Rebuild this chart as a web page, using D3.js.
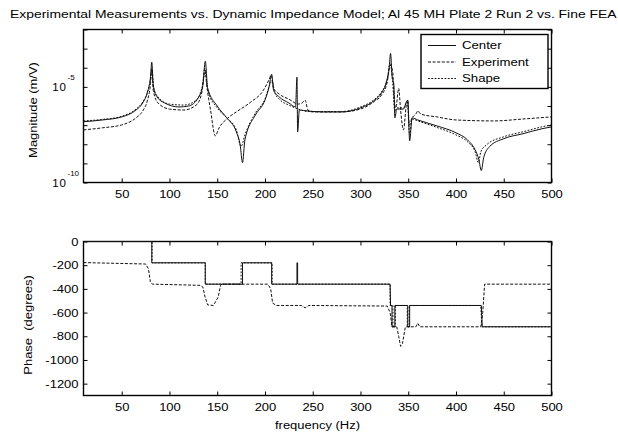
<!DOCTYPE html>
<html>
<head>
<meta charset="utf-8">
<script src="https://cdn.jsdelivr.net/npm/d3@7"></script>
<style>
    body { margin: 0; background: #fff; }
    text { font-family: "Liberation Sans", Arial, Helvetica, sans-serif; fill: #000; }
</style>
</head>
<body>
<svg id="chart" width="618" height="435"></svg>
<script>

//- Data
//  Magnitudes are kept as log10 of m/V, phases in degrees, frequencies in Hz

const centerMagFreq = [10, 30, 50, 65, 72, 77, 80, 81.5, 83, 87, 95, 110, 120, 130, 135, 137.5, 140, 150, 160, 170,
    174, 176.5, 179, 190, 200, 204, 207, 209, 215, 225, 232, 233.5, 234.2, 236, 245, 260, 280, 300, 315, 322,
    327, 330, 331.5, 333, 335, 336, 338, 345, 348, 349.5, 351.5, 354, 360, 380, 400, 412, 420, 424, 426.5, 429,
    435, 450, 470, 490, 500];
const centerMagLog = [-6.82, -6.73, -6.57, -6.21, -5.84, -5.27, -4.55, -3.71, -4.91, -5.53, -5.84, -6.05, -6.00, -5.58, -4.91, -3.66, -5.06, -6.00, -6.62, -7.35,
    -8.03, -8.96, -7.77, -6.47, -5.69, -5.06, -4.34, -5.17, -5.53, -5.84, -6.05, -4.49, -7.35, -6.21, -6.26, -6.31, -6.31, -6.10, -5.69, -5.32,
    -4.75, -4.03, -3.25, -4.39, -4.91, -6.62, -6.16, -6.16, -5.79, -5.69, -7.82, -6.62, -6.73, -7.04, -7.40, -7.77, -8.29, -8.81, -9.38, -8.70,
    -8.13, -7.71, -7.45, -7.19, -7.09];

const expMagFreq = [10, 30, 50, 65, 72, 77, 80, 81.5, 83, 88, 100, 115, 128, 134, 137, 139, 143, 148, 152, 160,
    170, 185, 198, 204, 206.5, 209, 215, 225, 235, 239, 242, 245, 250, 280, 300, 315, 322, 328, 331, 333.5,
    335.5, 337, 340, 342, 345, 348, 349.5, 351, 354, 358, 360, 363, 380, 400, 440, 470, 500];
const expMagLog = [-7.25, -7.14, -6.99, -6.62, -6.26, -5.69, -4.91, -4.03, -5.17, -5.84, -6.16, -6.21, -5.95, -5.27, -4.03, -4.91, -6.21, -7.56, -7.14, -6.68,
    -6.31, -5.80, -5.20, -4.65, -4.39, -5.06, -5.38, -5.64, -5.90, -5.84, -5.69, -6.21, -6.31, -6.31, -6.16, -5.74, -5.43, -4.75, -3.87, -4.13,
    -5.69, -6.10, -5.08, -6.21, -7.25, -5.95, -5.69, -6.99, -6.62, -6.42, -6.26, -6.42, -6.57, -6.73, -6.78, -6.68, -6.57];

const shapeMagFreq = [10, 30, 50, 65, 72, 77, 80, 81.8, 83.5, 88, 100, 115, 128, 134, 137.5, 140, 150, 160, 170, 175,
    179, 190, 200, 205, 207.5, 210, 216, 225, 235, 245, 280, 300, 315, 322, 328, 331, 333.5, 336, 338, 345,
    349, 351.5, 354, 360, 380, 400, 412, 420, 423.5, 426, 432, 450, 470, 490, 500];
const shapeMagLog = [-6.78, -6.70, -6.54, -6.16, -5.79, -5.27, -4.65, -4.13, -5.06, -5.53, -5.90, -5.95, -5.69, -5.06, -4.22, -5.17, -6.10, -6.62, -7.25, -8.11,
    -7.51, -6.36, -5.64, -4.91, -4.65, -5.27, -5.69, -5.95, -6.16, -6.29, -6.29, -6.05, -5.64, -5.27, -4.65, -3.73, -4.65, -6.31, -6.10, -6.10,
    -5.79, -7.51, -6.68, -6.78, -7.12, -7.51, -7.87, -8.39, -8.96, -8.39, -8.03, -7.61, -7.35, -7.09, -6.99];

const centerPhaseFreq = [10, 81.5, 81.5, 137.5, 137.5, 176.5, 176.5, 207, 207, 233.5, 233.5, 234.2, 234.2,
    331, 331.5, 333, 333, 336, 336, 349.5, 349.5, 351.5, 351.5, 426.5, 427.5, 500];
const centerPhase = [0, 0, -180, -180, -360, -360, -180, -180, -360, -360, -180, -180, -360,
    -360, -540, -540, -720, -720, -540, -540, -720, -720, -540, -540, -720, -720];

const expPhaseFreq = [10, 75, 78, 80, 82, 132, 135, 137, 140, 146, 151, 153.5, 155, 203, 206, 208, 212,
    238, 242, 246, 328, 331, 333, 338, 340, 342, 344, 347, 358, 360, 362, 426, 428, 430, 500];
const expPhase = [-178, -190, -230, -340, -360, -370, -385, -460, -535, -540, -470, -370, -360, -360, -400, -520, -540,
    -540, -560, -540, -545, -600, -720, -720, -800, -885, -860, -720, -720, -690, -720, -720, -600, -360, -360];

const shapePhaseFreq = [10, 81.8, 81.8, 137.5, 137.5, 175, 175, 207.5, 207.5, 331, 331, 334, 334,
    336.5, 336.5, 349, 349, 351, 351, 426, 427, 500];
const shapePhase = [0, 0, -180, -180, -360, -360, -180, -180, -360, -360, -540, -540, -720,
    -720, -540, -540, -720, -720, -540, -540, -720, -720];

const freqTicks = [50, 100, 150, 200, 250, 300, 350, 400, 450, 500];
const magTicks = [1e-10, 1e-9, 1e-8, 1e-7, 1e-6, 1e-5, 1e-4, 1e-3, 1e-2];
const phaseTicks = [0, -200, -400, -600, -800, -1000, -1200];

const seriesNames = ["Center", "Experiment", "Shape"];


//- Layout
const PLOTLEFT = 83.5, PLOTRIGHT = 551.5;
const MAGTOP = 29.5, MAGBOTTOM = 182.5;
const PHTOP = 241.5, PHBOTTOM = 395.5;
const STRETCH = 1.18;   // the lettering in the picture is wider than Liberation Sans

const dashes = { "Center": null, "Experiment": "3,1.6", "Shape": "1.8,1.5" };

const svg = d3.select("#chart");

const xScale = d3.scaleLinear().domain([10, 500]).range([PLOTLEFT, PLOTRIGHT]);
const yMag = d3.scaleLog().domain([1e-10, 1e-2]).range([MAGBOTTOM, MAGTOP]);
const yPhase = d3.scaleLinear().domain([-1300, 0]).range([PHBOTTOM, PHTOP]);


function widen(sel){
    // stretch each text horizontally around its own anchor point
    sel.each(function(){
        let t = d3.select(this);
        let x = +t.attr("x") || 0, y = +t.attr("y") || 0;
        t.attr("transform", `translate(${x},${y}) scale(${STRETCH},1) translate(${-x},${-y})`);
    });
}


function drawFrame(yScale, top, bottom, yTicks, yFormat){
    let g = svg.append("g");

    // bottom with labels
    let xb = g.append("g")
        .attr("transform", `translate(0,${bottom})`)
        .call(d3.axisBottom(xScale).tickValues(freqTicks).tickSizeInner(-4).tickSizeOuter(0).tickPadding(8));
    // top, ticks only
    let xt = g.append("g")
        .attr("transform", `translate(0,${top})`)
        .call(d3.axisTop(xScale).tickValues(freqTicks).tickSizeInner(-4).tickSizeOuter(0).tickFormat(""));
    // left
    let yl = g.append("g")
        .attr("transform", `translate(${PLOTLEFT},0)`)
        .call(d3.axisLeft(yScale).tickValues(yTicks).tickSizeInner(-4).tickSizeOuter(0).tickPadding(5).tickFormat(yFormat));
    // right, ticks only
    let yr = g.append("g")
        .attr("transform", `translate(${PLOTRIGHT},0)`)
        .call(d3.axisRight(yScale).tickValues(yTicks).tickSizeInner(-4).tickSizeOuter(0).tickFormat(""));

    [xb, xt, yl, yr].forEach(a => {
        a.select(".domain").remove();
        a.attr("font-family", null).attr("font-size", 11);
        a.selectAll("line").attr("stroke", "#000");
        widen(a.selectAll("text"));
    });

    g.append("rect")
        .attr("x", PLOTLEFT).attr("y", top)
        .attr("width", PLOTRIGHT - PLOTLEFT).attr("height", bottom - top)
        .attr("fill", "none").attr("stroke", "#000").attr("stroke-width", 1.4);
}


function drawSeries(freqs, values, yScale, name, curve){
    let pts = freqs.map((f, i) => [f, values[i]]);
    let line = d3.line()
        .x(d => xScale(d[0]))
        .y(d => yScale(d[1]))
        .curve(curve);
    svg.append("path")
        .datum(pts)
        .attr("d", line)
        .attr("fill", "none")
        .attr("stroke", "#111")
        .attr("stroke-width", 1)
        .attr("stroke-dasharray", dashes[name]);
}


//-- Magnitude plot
drawFrame(yMag, MAGTOP, MAGBOTTOM, magTicks, () => "");

drawSeries(shapeMagFreq, shapeMagLog.map(v => Math.pow(10, v)), yMag, "Shape", d3.curveMonotoneX);
drawSeries(expMagFreq, expMagLog.map(v => Math.pow(10, v)), yMag, "Experiment", d3.curveMonotoneX);
drawSeries(centerMagFreq, centerMagLog.map(v => Math.pow(10, v)), yMag, "Center", d3.curveMonotoneX);

//- power-of-ten labels
[[1e-5, "-5"], [1e-10, "-10"]].forEach(([v, ex]) => {
    let y = yMag(v);
    svg.append("text").attr("x", 67).attr("y", y + 4.5)
        .attr("text-anchor", "end").attr("font-size", 11.5).attr("letter-spacing", 1)
        .text("10");
    svg.append("text").attr("x", 67.5).attr("y", y - 7)
        .attr("font-size", 8)
        .text(ex);
});

svg.append("text")
    .attr("transform", "translate(37,110) rotate(-90) scale(1.18,1)")
    .attr("text-anchor", "middle").attr("font-size", 11)
    .text("Magnitude (m/V)");


//- Legend
let legend = svg.append("g");
legend.append("rect")
    .attr("x", 421).attr("y", 34.5).attr("width", 127).attr("height", 54)
    .attr("fill", "#fff").attr("stroke", "#000").attr("stroke-width", 1.4);

seriesNames.forEach((name, i) => {
    let y = 45.5 + i * 16.5;
    legend.append("line")
        .attr("x1", 428).attr("x2", 456).attr("y1", y).attr("y2", y)
        .attr("stroke", "#111").attr("stroke-width", 1)
        .attr("stroke-dasharray", dashes[name]);
    legend.append("text")
        .attr("x", 462).attr("y", y + 4)
        .attr("font-size", 11.2)
        .text(name)
        .call(widen);
});


//-- Phase plot
drawFrame(yPhase, PHTOP, PHBOTTOM, phaseTicks, d => String(d));

drawSeries(shapePhaseFreq, shapePhase, yPhase, "Shape", d3.curveLinear);
drawSeries(expPhaseFreq, expPhase, yPhase, "Experiment", d3.curveLinear);
drawSeries(centerPhaseFreq, centerPhase, yPhase, "Center", d3.curveLinear);

svg.append("text")
    .attr("transform", "translate(32,325) rotate(-90) scale(1.18,1)")
    .attr("text-anchor", "middle").attr("font-size", 11)
    .attr("xml:space", "preserve").style("white-space", "pre")
    .text("Phase  (degrees)");

svg.append("text")
    .attr("x", 317.5).attr("y", 429)
    .attr("text-anchor", "middle").attr("font-size", 11)
    .text("frequency (Hz)")
    .call(widen);


//-- Title, stretched to the width it takes in the picture
let title = svg.append("text")
    .attr("x", 10).attr("y", 18.5)
    .attr("font-size", 11.6)
    .text("Experimental Measurements vs. Dynamic Impedance Model; Al 45 MH Plate 2 Run 2 vs. Fine FEA");

let titleLen = title.node().getComputedTextLength();
title.attr("transform", `translate(10,0) scale(${607 / titleLen},1) translate(-10,0)`);

</script>
</body>
</html>
